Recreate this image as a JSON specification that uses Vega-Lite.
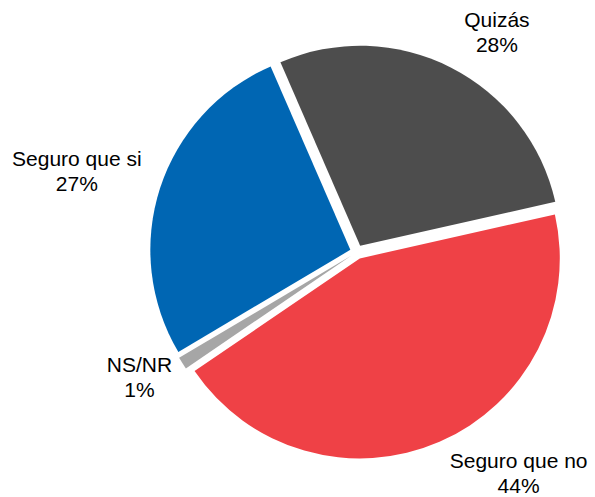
{
  "$schema": "https://vega.github.io/schema/vega-lite/v6.json",
  "width": 478,
  "height": 490,
  "autosize": {"type": "none"},
  "padding": {"left": 118, "top": 7, "right": 0, "bottom": 0},
  "background": "white",
  "view": {"stroke": null},
  "data": {
    "values": [
      {"cat": "Quizás", "pct": 28, "order": 1, "label": "Quizás\n28%"},
      {"cat": "Seguro que no", "pct": 44, "order": 2, "label": "Seguro que no\n44%"},
      {"cat": "NS/NR", "pct": 1, "order": 3, "label": "NS/NR\n1%"},
      {"cat": "Seguro que si", "pct": 27, "order": 4, "label": "Seguro que si\n27%"}
    ]
  },
  "encoding": {
    "theta": {"field": "pct", "type": "quantitative", "stack": true, "scale": {"range": [-0.41, 5.8732]}},
    "order": {"field": "order", "type": "quantitative"}
  },
  "layer": [
    {
      "mark": {
        "type": "arc",
        "outerRadius": 200,
        "xOffset": {"expr": "7*sin(-0.41 + PI*(datum.pct_start+datum.pct_end)/100)"},
        "yOffset": {"expr": "-7*cos(-0.41 + PI*(datum.pct_start+datum.pct_end)/100)"}
      },
      "encoding": {
        "color": {
          "field": "cat",
          "type": "nominal",
          "legend": null,
          "scale": {
            "domain": ["Quizás", "Seguro que no", "NS/NR", "Seguro que si"],
            "range": ["#4d4d4d", "#ef4146", "#a6a6a6", "#0066b3"]
          }
        }
      }
    },
    {
      "mark": {
        "type": "text",
        "radius": 265,
        "font": "Liberation Sans",
        "fontSize": 21,
        "lineHeight": 25,
        "color": "black",
        "lineBreak": "\n",
        "align": "center",
        "baseline": "middle",
        "dx": {"expr": "datum.cat == 'Quizás' ? 20 : datum.cat == 'Seguro que si' ? -28 : datum.cat == 'NS/NR' ? 6 : 56"},
        "dy": {"expr": "datum.cat == 'Quizás' ? 5 : datum.cat == 'Seguro que si' ? -11 : datum.cat == 'NS/NR' ? -28 : -33"}
      },
      "encoding": {
        "text": {"field": "label", "type": "nominal"}
      }
    }
  ]
}
